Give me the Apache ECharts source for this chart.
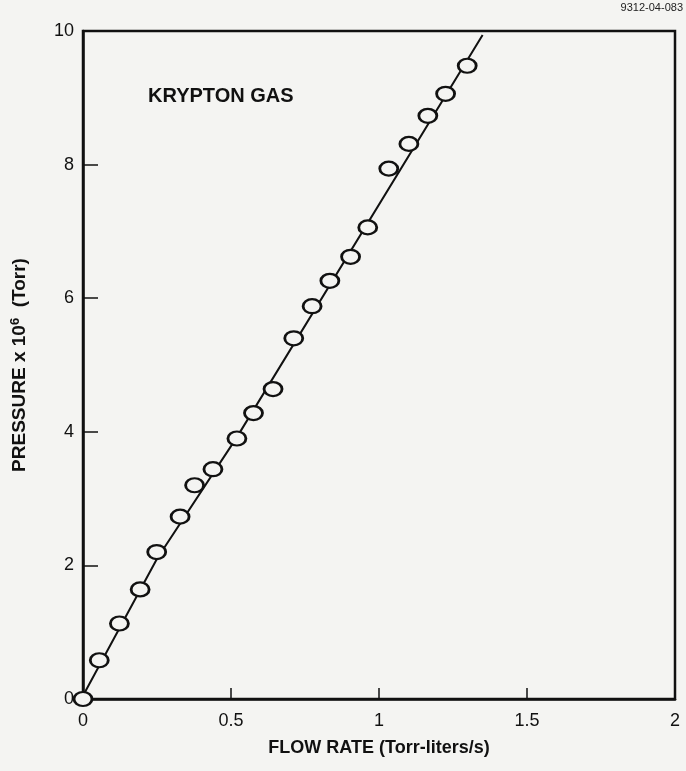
<!DOCTYPE html>
<html>
<head>
<meta charset="utf-8">
<script src="https://cdn.jsdelivr.net/npm/echarts@6/dist/echarts.min.js"></script>
<style>
html,body{margin:0;padding:0;background:#f4f4f2;}
#chart{width:686px;height:771px;}
</style>
</head>
<body>
<div id="chart"></div>
<script>
// Data
const flowRate = [0.00, 0.055, 0.123, 0.193, 0.249, 0.328, 0.377, 0.439, 0.520, 0.576, 0.642, 0.712, 0.774, 0.834, 0.904, 0.962, 1.033, 1.101, 1.165, 1.225, 1.298];
const pressure = [0.00, 0.58, 1.13, 1.64, 2.20, 2.73, 3.20, 3.44, 3.90, 4.28, 4.64, 5.40, 5.88, 6.26, 6.62, 7.06, 7.94, 8.31, 8.73, 9.06, 9.48];
// hand-drawn fit line, vertices
const fitLineX = [0.0, 0.25, 0.52, 1.35];
const fitLineY = [0.05, 2.10, 3.92, 9.94];
const xTicks = [0, 0.5, 1, 1.5, 2];
const yTicks = [0, 2, 4, 6, 8, 10];

const font = '"Liberation Sans", Arial, Helvetica, sans-serif';
const chart = echarts.init(document.getElementById('chart'));
chart.setOption({
  backgroundColor: '#f4f4f2',
  animation: false,
  grid: { left: 83, right: 11, top: 31, bottom: 72, show: true, borderColor: '#111', borderWidth: 2.5, backgroundColor: 'transparent' },
  graphic: [
    { type: 'text', left: 148, top: 86, style: { text: 'KRYPTON GAS', font: 'bold 20px ' + font, fill: '#111' } },
    { type: 'text', right: 3, top: 2, style: { text: '9312-04-083', font: '11px ' + font, fill: '#222' } }
  ],
  xAxis: {
    type: 'value', min: 0, max: 2, interval: 0.5,
    name: 'FLOW RATE (Torr-liters/s)', nameLocation: 'middle', nameGap: 40,
    nameTextStyle: { fontFamily: font, fontSize: 18, fontWeight: 'bold', color: '#111' },
    axisLine: { show: true, lineStyle: { color: '#111', width: 2.5 } },
    axisTick: { show: true, inside: true, length: 11, lineStyle: { color: '#111', width: 1.5 } },
    axisLabel: { fontFamily: font, fontSize: 18, color: '#111', margin: 13, formatter: v => xTicks.includes(v) ? String(v) : '' },
    splitLine: { show: false }
  },
  yAxis: {
    type: 'value', min: 0, max: 10, interval: 2,
    name: 'PRESSURE x 10{sup|6}  (Torr)', nameLocation: 'middle', nameGap: 52,
    nameTextStyle: { fontFamily: font, fontSize: 19, fontWeight: 'bold', color: '#111',
      rich: { sup: { fontFamily: font, fontSize: 13, fontWeight: 'bold', color: '#111', verticalAlign: 'top', padding: [0,0,9,0] } } },
    axisLine: { show: true, lineStyle: { color: '#111', width: 2.5 } },
    axisTick: { show: true, inside: true, length: 15, lineStyle: { color: '#111', width: 1.5 } },
    axisLabel: { fontFamily: font, fontSize: 18, color: '#111', margin: 9, formatter: v => yTicks.includes(v) ? String(v) : '' },
    splitLine: { show: false }
  },
  series: [
    {
      type: 'line', data: fitLineX.map((x, i) => [x, fitLineY[i]]),
      showSymbol: false, symbol: 'none',
      lineStyle: { color: '#111', width: 2 }, z: 2
    },
    {
      type: 'scatter', data: flowRate.map((x, i) => [x, pressure[i]]),
      symbol: 'circle', symbolSize: [18, 14],
      itemStyle: { color: '#f4f4f2', borderColor: '#111', borderWidth: 2.5, opacity: 1 }, z: 3
    }
  ]
});
</script>
</body>
</html>
